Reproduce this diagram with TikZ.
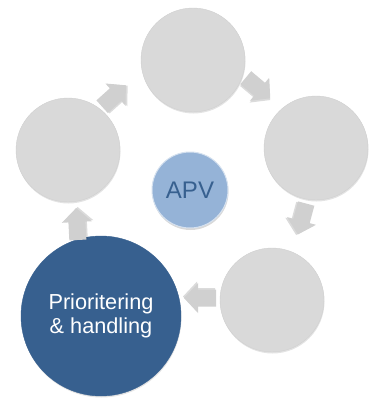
\documentclass[tikz,border=0pt]{standalone}
\usepackage{fontspec}
\setmainfont{Liberation Sans}
\usetikzlibrary{shadows}
\definecolor{cgray}{HTML}{D9D9D9}
\definecolor{agray}{HTML}{D0D0D0}
\definecolor{dblue}{HTML}{37608F}
\definecolor{lblue}{HTML}{95B3D7}
\begin{document}
\begin{tikzpicture}[x=1pt,y=-1pt,
  graycirc/.style={circle,fill=cgray,draw=cgray!96!black,line width=0.4pt,minimum size=104pt,inner sep=0pt,
    drop shadow={shadow xshift=0.5pt,shadow yshift=-1.5pt,opacity=0.22}},
  bigcirc/.style={circle,fill=dblue,draw=dblue,line width=0.4pt,minimum size=160pt,inner sep=0pt,
    text=white,font=\fontsize{21.7}{24}\selectfont,align=center,
    drop shadow={shadow xshift=0.5pt,shadow yshift=-1.5pt,opacity=0.22}},
  centcirc/.style={circle,fill=lblue,draw=white!60!lblue,line width=1pt,minimum size=76pt,inner sep=0pt,
    text=dblue,font=\fontsize{24}{28}\selectfont,
    drop shadow={shadow xshift=0.5pt,shadow yshift=-2pt,opacity=0.3}},
  blockarrow/.pic={
    \fill[black,opacity=0.14,shift={(1,1.5)}] (-16,-8.5) -- (2,-8.5) -- (2,-15) -- (16,0) -- (2,15) -- (2,8.5) -- (-16,8.5) -- cycle;
    \fill[agray] (-16,-8.5) -- (2,-8.5) -- (2,-15) -- (16,0) -- (2,15) -- (2,8.5) -- (-16,8.5) -- cycle;
  }]
\useasboundingbox (0,0) rectangle (377,399);
\node[graycirc] (top) at (193,60) {};
\node[graycirc] (right) at (316,148) {};
\node[graycirc] (botright) at (272,300) {};
\node[graycirc] (left) at (68,150) {};
\node[bigcirc] (prio) at (101,316) {Prioritering\\\& handling};
\node[centcirc] (apv) at (190,190) {APV};
\pic[rotate=42] (a1) at (114,96) {blockarrow};
\pic[rotate=-40] (a2) at (258,88) {blockarrow};
\pic[rotate=-105] (a3) at (302,219) {blockarrow};
\pic[rotate=180] (a4) at (200,298) {blockarrow};
\pic[rotate=93] (a5) at (77,224) {blockarrow};
\end{tikzpicture}
\end{document}
